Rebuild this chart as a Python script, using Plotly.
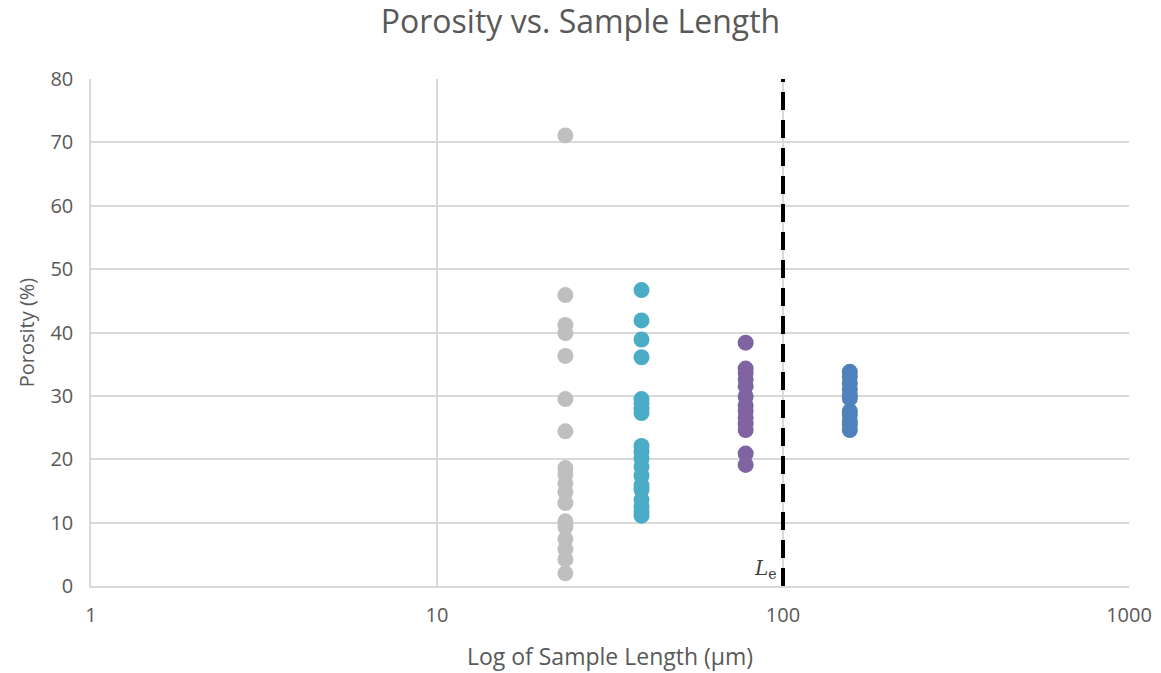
import plotly.graph_objects as go

# Sample lengths (µm) and porosity readings (%) for each sample size
len_a = 23.5
por_a = [71.1, 45.9, 41.2, 39.9, 36.3, 29.5, 24.4, 18.6, 17.6, 16.2, 14.8, 13.1,
         10.2, 9.3, 7.4, 5.8, 4.2, 2.0]
len_b = 39
por_b = [46.7, 41.9, 38.9, 36.1, 29.5, 28.8, 28.0, 27.3, 22.1, 21.2, 20.1, 18.8,
         17.4, 15.9, 15.2, 13.6, 12.6, 11.7, 11.1]
len_c = 78
por_c = [38.4, 34.3, 33.6, 32.6, 31.5, 29.9, 28.5, 27.6, 26.6, 25.6, 24.6, 20.9, 19.1]
len_d = 156
por_d = [33.8, 33.0, 32.0, 31.0, 30.1, 29.6, 27.6, 27.0, 26.0, 25.4, 24.6]

# Characteristic length marker
le_value = 100

colors = ["#BFBFBF", "#4BACC6", "#8064A2", "#4F81BD"]
series = [(len_a, por_a), (len_b, por_b), (len_c, por_c), (len_d, por_d)]

fig = go.Figure()
for (length, vals), col in zip(series, colors):
    fig.add_trace(go.Scatter(
        x=[length] * len(vals), y=vals, mode="markers",
        marker=dict(size=16, color=col, line=dict(width=0)),
        showlegend=False, cliponaxis=False,
    ))

fig.add_shape(type="line", x0=le_value, x1=le_value, y0=0, y1=80,
              xref="x", yref="y",
              line=dict(color="black", width=4, dash="18px,10px"))

fig.add_annotation(x=2, y=0, xref="x", yref="y",
                   text="<i>L</i><sub>e</sub>", showarrow=False,
                   xanchor="right", yanchor="bottom", xshift=-4, yshift=2,
                   font=dict(family="DejaVu Serif", size=20, color="#404040"))

grid = "#D9D9D9"
txt = "#595959"
fig.update_layout(
    width=1161, height=673,
    paper_bgcolor="white", plot_bgcolor="white",
    margin=dict(l=91, r=32, t=79, b=87),
    font=dict(family="Open Sans", color=txt),
    title=dict(text="Porosity vs. Sample Length", x=0.5, xanchor="center",
               y=0.967, yanchor="middle",
               font=dict(size=32, color=txt, family="Open Sans")),
    xaxis=dict(type="log", range=[0, 3], tickvals=[1, 10, 100, 1000],
               ticktext=["1", "10", "100", "1000"], automargin=False,
               showgrid=True, gridcolor=grid, gridwidth=1.5,
               zeroline=False, showline=True, linecolor=grid, linewidth=1.5,
               mirror=False, ticks="", tickfont=dict(size=20, color=txt),
               ticklabelstandoff=10,
               title=dict(text="Log of Sample Length (µm)",
                          font=dict(size=23, color=txt), standoff=22)),
    yaxis=dict(range=[0, 80], dtick=10, showgrid=True, gridcolor=grid,
               gridwidth=1.5, zeroline=False, showline=True, linecolor=grid,
               linewidth=1.5, ticks="", tickfont=dict(size=20, color=txt),
               ticklabelstandoff=12, automargin=False,
               title=dict(text="Porosity (%)", font=dict(size=20, color=txt),
                          standoff=10)),
)

fig.write_html("out.html")
